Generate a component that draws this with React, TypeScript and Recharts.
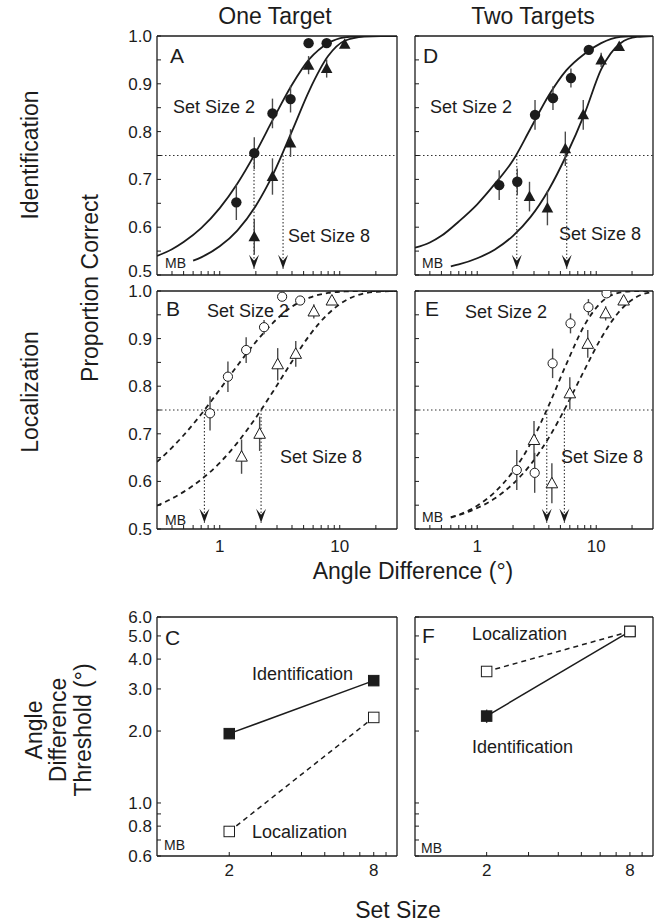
import React from "react";
import {
  ComposedChart,
  Line,
  Scatter,
  XAxis,
  YAxis,
  ErrorBar,
  ReferenceLine,
} from "recharts";

const FONT = "'Liberation Sans', Arial, Helvetica, sans-serif";
const INK = "#1c1c1c";
const BAR = "#4a4a4a";

// angle grid (deg) for the fitted curves
const fitAngles = [0.3, 0.4, 0.5, 0.7, 1, 1.4, 2, 2.8, 4, 5.6, 8, 11, 16, 22, 30];
const fitAnglesFromMB = [0.6, 0.7, 1, 1.4, 2, 2.8, 4, 5.6, 8, 11, 16, 22, 30];

// A - identification, one target
const idOneSs2Angles = [1.375, 1.94, 2.75, 3.89, 5.5, 7.78];
const idOneSs2Pc = [0.652, 0.755, 0.838, 0.868, 0.985, 0.985];
const idOneSs2Err = [0.037, 0.033, 0.031, 0.028, 0.008, 0.005];
const idOneSs8Angles = [1.94, 2.75, 3.89, 5.5, 7.78, 11];
const idOneSs8Pc = [0.58, 0.706, 0.776, 0.939, 0.932, 0.983];
const idOneSs8Err = [0.037, 0.038, 0.029, 0.019, 0.019, 0.005];
const idOneSs2Fit = [0.54, 0.554, 0.569, 0.598, 0.64, 0.691, 0.757, 0.827, 0.898, 0.952, 0.985, 0.997, 1, 1, 1];
const idOneSs8Fit = [0.53, 0.537, 0.56, 0.593, 0.645, 0.712, 0.801, 0.887, 0.958, 0.99, 0.999, 1, 1];
const idOneThresholds = [1.93, 3.37];

// B - localization, one target
const locOneSs2Angles = [0.83, 1.17, 1.66, 2.34, 3.31, 4.68];
const locOneSs2Pc = [0.743, 0.82, 0.876, 0.924, 0.988, 0.98];
const locOneSs2Err = [0.036, 0.032, 0.027, 0.015, 0.005, 0.005];
const locOneSs8Angles = [1.52, 2.15, 3.04, 4.3, 6.08, 8.6];
const locOneSs8Pc = [0.652, 0.7, 0.846, 0.868, 0.957, 0.98];
const locOneSs8Err = [0.036, 0.036, 0.034, 0.027, 0.015, 0.005];
const locOneSs2Fit = [0.641, 0.671, 0.697, 0.741, 0.793, 0.843, 0.893, 0.934, 0.967, 0.986, 0.996, 0.999, 1, 1, 1];
const locOneSs8Fit = [0.549, 0.564, 0.578, 0.604, 0.639, 0.681, 0.734, 0.79, 0.852, 0.907, 0.952, 0.979, 0.995, 0.999, 1];
const locOneThresholds = [0.745, 2.21];

// D - identification, two targets
const idTwoSs2Angles = [1.53, 2.17, 3.06, 4.33, 6.13, 8.66];
const idTwoSs2Pc = [0.688, 0.695, 0.835, 0.87, 0.912, 0.971];
const idTwoSs2Err = [0.031, 0.028, 0.031, 0.025, 0.02, 0.008];
const idTwoSs8Angles = [2.75, 3.89, 5.5, 7.78, 11, 15.6];
const idTwoSs8Pc = [0.664, 0.64, 0.764, 0.835, 0.95, 0.978];
const idTwoSs8Err = [0.031, 0.036, 0.036, 0.031, 0.015, 0.005];
const idTwoSs2Fit = [0.557, 0.568, 0.582, 0.612, 0.648, 0.69, 0.74, 0.806, 0.876, 0.928, 0.963, 0.985, 0.998, 1, 1];
const idTwoSs8Fit = [0.518, 0.522, 0.535, 0.553, 0.582, 0.621, 0.679, 0.75, 0.838, 0.93, 0.985, 0.998, 1];
const idTwoThresholds = [2.15, 5.65];

// E - localization, two targets
const locTwoSs2Angles = [2.15, 3.04, 4.3, 6.08, 8.6, 12.2];
const locTwoSs2Pc = [0.624, 0.618, 0.848, 0.932, 0.966, 0.995];
const locTwoSs2Err = [0.042, 0.042, 0.031, 0.021, 0.017, 0.005];
const locTwoSs8Angles = [3, 4.24, 6, 8.49, 12, 17];
const locTwoSs8Pc = [0.687, 0.596, 0.785, 0.889, 0.953, 0.98];
const locTwoSs8Err = [0.04, 0.042, 0.034, 0.029, 0.015, 0.005];
const locTwoSs2Fit = [0.525, 0.53, 0.549, 0.577, 0.621, 0.679, 0.76, 0.846, 0.929, 0.976, 0.997, 1, 1];
const locTwoSs8Fit = [0.524, 0.529, 0.544, 0.564, 0.595, 0.635, 0.692, 0.758, 0.835, 0.901, 0.96, 0.988, 0.998];
const locTwoThresholds = [3.84, 5.4];

// C, F - thresholds vs set size
const setSizes = [2, 8];
const oneIdThresh = [1.95, 3.25];
const oneIdErr = [0, 0];
const oneLocThresh = [0.76, 2.28];
const oneLocErr = [0.04, 0];
const twoIdThresh = [2.31, 5.22];
const twoIdErr = [0.15, 0];
const twoLocThresh = [3.55, 5.22];
const twoLocErr = [0, 0];

const angleTicks = [0.4, 0.5, 0.6, 0.7, 0.8, 0.9, 1, 2, 3, 4, 5, 6, 7, 8, 9, 10, 20];
const pcTicks = [0.5, 0.55, 0.6, 0.65, 0.7, 0.75, 0.8, 0.85, 0.9, 0.95, 1];
const sizeTicks = [2, 3, 4, 5, 6, 7, 8, 9];
const threshTicks = [0.6, 0.7, 0.8, 0.9, 1, 2, 3, 4, 5, 6];

const CRIT = 0.75;
const ARROW_TIP = 0.513;

const LW = 50;
const BH = 36;
const TM = 14;

type Kind = "disc" | "tri" | "ring" | "openTri";

const pts = (a: number[], p: number[], e: number[]) =>
  a.map((v, i) => ({ a: v, p: p[i], e: e[i] }));
const curve = (a: number[], p: number[]) => a.map((v, i) => ({ a: v, p: p[i] }));

function marker(kind: Kind, cx: number, cy: number) {
  if (cx == null || cy == null) return <g />;
  if (kind === "disc") return <circle cx={cx} cy={cy} r={5.2} fill={INK} />;
  if (kind === "ring")
    return <circle cx={cx} cy={cy} r={4.6} fill="#fff" stroke={INK} strokeWidth={1} />;
  const tri = `${cx},${cy - 6} ${cx - 5.8},${cy + 4.5} ${cx + 5.8},${cy + 4.5}`;
  if (kind === "tri") return <polygon points={tri} fill={INK} />;
  return <polygon points={tri} fill="#fff" stroke={INK} strokeWidth={1} />;
}

const tickStyle = { fontSize: 17, fill: INK, fontFamily: FONT };
const axisStyle = { stroke: INK, strokeWidth: 1.3 };

// y tick labels for proportion correct; end labels can be nudged so stacked panels don't collide
const pcTick = (show: boolean, topShift: number, bottomShift: number) => (p: any) => {
  const v = p.payload.value;
  const major = Math.abs(v * 10 - Math.round(v * 10)) < 1e-6;
  if (!show || !major) return <g />;
  const shift = v === 1 ? topShift : v === 0.5 ? bottomShift : 0;
  return (
    <text
      x={p.x}
      y={p.y + shift}
      dy="0.355em"
      textAnchor="end"
      fontSize={17}
      fill={INK}
      fontFamily={FONT}
    >
      {v.toFixed(1)}
    </text>
  );
};

type PsychProps = {
  x: number;
  y: number;
  w: number;
  h: number;
  marks: { kind: Kind; points: { a: number; p: number; e: number }[] }[];
  fits: { a: number; p: number }[][];
  thresholds: number[];
  dashed?: boolean;
  yLabels?: boolean;
  xLabels?: boolean;
  topShift?: number;
  bottomShift?: number;
};

function PsychPanel({
  x,
  y,
  w,
  h,
  marks,
  fits,
  thresholds,
  dashed,
  yLabels,
  xLabels,
  topShift = 0,
  bottomShift = 0,
}: PsychProps) {
  return (
    <div style={{ position: "absolute", left: x - LW, top: y - 1 - TM }}>
      <ComposedChart width={LW + w + 1} height={TM + 1 + h + BH} margin={{ top: TM, right: 0, bottom: 0, left: 0 }}>
        <XAxis
          xAxisId="b"
          dataKey="a"
          type="number"
          scale="log"
          domain={[0.3, 30]}
          allowDataOverflow
          ticks={angleTicks}
          interval={0}
          height={BH}
          tickSize={-4}
          tickMargin={15}
          tick={tickStyle}
          tickFormatter={(v: number) => (xLabels && (v === 1 || v === 10) ? String(v) : "")}
          axisLine={axisStyle}
          tickLine={{ stroke: INK }}
        />
        <XAxis
          xAxisId="t"
          orientation="top"
          type="number"
          scale="log"
          domain={[0.3, 30]}
          allowDataOverflow
          ticks={angleTicks}
          interval={0}
          height={1}
          tickSize={-4}
          tick={false}
          axisLine={axisStyle}
          tickLine={{ stroke: INK }}
        />
        <YAxis
          yAxisId="l"
          dataKey="p"
          type="number"
          domain={[0.5, 1]}
          allowDataOverflow
          ticks={pcTicks}
          interval={0}
          width={LW}
          tickSize={-4}
          tickMargin={9}
          tick={pcTick(!!yLabels, topShift, bottomShift)}
          axisLine={axisStyle}
          tickLine={{ stroke: INK }}
        />
        <YAxis
          yAxisId="r"
          orientation="right"
          type="number"
          domain={[0.5, 1]}
          ticks={pcTicks}
          interval={0}
          width={1}
          tickSize={-4}
          tick={false}
          axisLine={axisStyle}
          tickLine={{ stroke: INK }}
        />
        <ReferenceLine xAxisId="b" yAxisId="l" y={CRIT} stroke="#333" strokeWidth={1} strokeDasharray="1.5 2.5" />
        {fits.map((f, i) => (
          <Line
            key={"fit" + i}
            xAxisId="b"
            yAxisId="l"
            data={f}
            dataKey="p"
            type="monotone"
            dot={false}
            stroke={INK}
            strokeWidth={1.8}
            strokeDasharray={dashed ? "5 4" : undefined}
            isAnimationActive={false}
          />
        ))}
        {thresholds.map((t, i) => (
          <Line
            key={"arrow" + i}
            xAxisId="b"
            yAxisId="l"
            data={[{ a: t, p: CRIT }, { a: t, p: ARROW_TIP }]}
            dataKey="p"
            stroke="#333"
            strokeWidth={1.1}
            strokeDasharray="1.5 2"
            isAnimationActive={false}
            dot={(d: any) =>
              d.index === 1 ? (
                <polygon
                  key={"head" + i}
                  points={`${d.cx - 5},${d.cy - 14} ${d.cx},${d.cy - 8} ${d.cx + 5},${d.cy - 14} ${d.cx},${d.cy}`}
                  fill={INK}
                />
              ) : (
                <g key={"tail" + i} />
              )
            }
          />
        ))}
        {marks.map((m, i) => (
          <Scatter
            key={"mk" + i}
            xAxisId="b"
            yAxisId="l"
            data={m.points}
            dataKey="p"
            isAnimationActive={false}
            shape={(p: any) => marker(m.kind, p.cx, p.cy)}
          >
            <ErrorBar dataKey="e" direction="y" width={0} stroke={BAR} strokeWidth={1.4} />
          </Scatter>
        ))}
      </ComposedChart>
    </div>
  );
}

type ThreshProps = {
  x: number;
  y: number;
  w: number;
  h: number;
  id: { s: number; t: number; e: number }[];
  loc: { s: number; t: number; e: number }[];
  yLabels?: boolean;
};

const square = (filled: boolean, size: number) => (d: any) => (
  <rect
    key={"sq" + d.index}
    x={d.cx - size / 2}
    y={d.cy - size / 2}
    width={size}
    height={size}
    fill={filled ? INK : "#fff"}
    stroke={INK}
    strokeWidth={1}
  />
);

function ThreshPanel({ x, y, w, h, id, loc, yLabels }: ThreshProps) {
  return (
    <div style={{ position: "absolute", left: x - LW, top: y - 1 - TM }}>
      <ComposedChart width={LW + w + 1} height={TM + 1 + h + BH} margin={{ top: TM, right: 0, bottom: 0, left: 0 }}>
        <XAxis
          xAxisId="b"
          dataKey="s"
          type="number"
          scale="log"
          domain={[1, 10]}
          allowDataOverflow
          ticks={sizeTicks}
          interval={0}
          height={BH}
          tickSize={-4}
          tickMargin={12}
          tick={tickStyle}
          tickFormatter={(v: number) => (v === 2 || v === 8 ? String(v) : "")}
          axisLine={axisStyle}
          tickLine={{ stroke: INK }}
        />
        <XAxis
          xAxisId="t"
          orientation="top"
          type="number"
          scale="log"
          domain={[1, 10]}
          ticks={sizeTicks}
          interval={0}
          height={1}
          tickSize={-4}
          tick={false}
          axisLine={axisStyle}
          tickLine={{ stroke: INK }}
        />
        <YAxis
          yAxisId="l"
          dataKey="t"
          type="number"
          scale="log"
          domain={[0.6, 6]}
          allowDataOverflow
          ticks={threshTicks}
          interval={0}
          width={LW}
          tickSize={-4}
          tickMargin={9}
          tick={tickStyle}
          tickFormatter={(v: number) => (yLabels && v !== 0.7 && v !== 0.9 ? v.toFixed(1) : "")}
          axisLine={axisStyle}
          tickLine={{ stroke: INK }}
        />
        <YAxis
          yAxisId="r"
          orientation="right"
          type="number"
          scale="log"
          domain={[0.6, 6]}
          ticks={threshTicks}
          interval={0}
          width={1}
          tickSize={-4}
          tick={false}
          axisLine={axisStyle}
          tickLine={{ stroke: INK }}
        />
        <Line
          xAxisId="b"
          yAxisId="l"
          data={id}
          dataKey="t"
          stroke={INK}
          strokeWidth={1.5}
          dot={square(true, 10.5)}
          isAnimationActive={false}
        >
          <ErrorBar dataKey="e" direction="y" width={0} stroke={BAR} strokeWidth={1.4} />
        </Line>
        <Line
          xAxisId="b"
          yAxisId="l"
          data={loc}
          dataKey="t"
          stroke={INK}
          strokeWidth={1.5}
          strokeDasharray="5 4"
          dot={square(false, 10.5)}
          isAnimationActive={false}
        >
          <ErrorBar dataKey="e" direction="y" width={0} stroke={BAR} strokeWidth={1.4} />
        </Line>
      </ComposedChart>
    </div>
  );
}

const thr = (s: number[], t: number[], e: number[]) => s.map((v, i) => ({ s: v, t: t[i], e: e[i] }));

export default function App() {
  const txt = { fontFamily: FONT, fill: INK } as const;
  return (
    <div style={{ position: "absolute", left: 0, top: 0, width: 657, height: 922, background: "#fff" }}>
      <PsychPanel
        x={157}
        y={36}
        w={240}
        h={239}
        yLabels
        bottomShift={-4}
        marks={[
          { kind: "disc", points: pts(idOneSs2Angles, idOneSs2Pc, idOneSs2Err) },
          { kind: "tri", points: pts(idOneSs8Angles, idOneSs8Pc, idOneSs8Err) },
        ]}
        fits={[curve(fitAngles, idOneSs2Fit), curve(fitAnglesFromMB, idOneSs8Fit)]}
        thresholds={idOneThresholds}
      />
      <PsychPanel
        x={157}
        y={291}
        w={240}
        h={238}
        yLabels
        xLabels
        dashed
        topShift={0}
        marks={[
          { kind: "ring", points: pts(locOneSs2Angles, locOneSs2Pc, locOneSs2Err) },
          { kind: "openTri", points: pts(locOneSs8Angles, locOneSs8Pc, locOneSs8Err) },
        ]}
        fits={[curve(fitAngles, locOneSs2Fit), curve(fitAngles, locOneSs8Fit)]}
        thresholds={locOneThresholds}
      />
      <PsychPanel
        x={415}
        y={36}
        w={238}
        h={239}
        marks={[
          { kind: "disc", points: pts(idTwoSs2Angles, idTwoSs2Pc, idTwoSs2Err) },
          { kind: "tri", points: pts(idTwoSs8Angles, idTwoSs8Pc, idTwoSs8Err) },
        ]}
        fits={[curve(fitAngles, idTwoSs2Fit), curve(fitAnglesFromMB, idTwoSs8Fit)]}
        thresholds={idTwoThresholds}
      />
      <PsychPanel
        x={415}
        y={291}
        w={238}
        h={238}
        xLabels
        dashed
        marks={[
          { kind: "ring", points: pts(locTwoSs2Angles, locTwoSs2Pc, locTwoSs2Err) },
          { kind: "openTri", points: pts(locTwoSs8Angles, locTwoSs8Pc, locTwoSs8Err) },
        ]}
        fits={[curve(fitAnglesFromMB, locTwoSs2Fit), curve(fitAnglesFromMB, locTwoSs8Fit)]}
        thresholds={locTwoThresholds}
      />
      <ThreshPanel
        x={157}
        y={617}
        w={240}
        h={239}
        yLabels
        id={thr(setSizes, oneIdThresh, oneIdErr)}
        loc={thr(setSizes, oneLocThresh, oneLocErr)}
      />
      <ThreshPanel
        x={415}
        y={617}
        w={238}
        h={239}
        id={thr(setSizes, twoIdThresh, twoIdErr)}
        loc={thr(setSizes, twoLocThresh, twoLocErr)}
      />

      <svg width={657} height={922} style={{ position: "absolute", left: 0, top: 0, pointerEvents: "none" }}>
        <g {...txt} fontSize={23} textAnchor="middle">
          <text x={275} y={24}>One Target</text>
          <text x={533} y={24}>Two Targets</text>
          <text x={413} y={579}>Angle Difference (°)</text>
          <text x={398} y={918}>Set Size</text>
          <text transform="translate(38,155) rotate(-90)">Identification</text>
          <text transform="translate(38,392) rotate(-90)">Localization</text>
          <text transform="translate(98,288) rotate(-90)">Proportion Correct</text>
          <text transform="translate(42,730) rotate(-90)">Angle</text>
          <text transform="translate(66,730) rotate(-90)">Difference</text>
          <text transform="translate(91,730) rotate(-90)">Threshold (°)</text>
        </g>
        <g {...txt} fontSize={21}>
          <text x={170} y={63}>A</text>
          <text x={166} y={316}>B</text>
          <text x={165} y={645}>C</text>
          <text x={423} y={63}>D</text>
          <text x={425} y={316}>E</text>
          <text x={422} y={643}>F</text>
        </g>
        <g {...txt} fontSize={14}>
          <text x={165} y={268}>MB</text>
          <text x={165} y={525}>MB</text>
          <text x={164} y={850}>MB</text>
          <text x={422} y={268}>MB</text>
          <text x={422} y={522}>MB</text>
          <text x={421} y={853}>MB</text>
        </g>
        <g {...txt} fontSize={18}>
          <text x={173} y={113}>Set Size 2</text>
          <text x={288} y={242}>Set Size 8</text>
          <text x={430} y={113}>Set Size 2</text>
          <text x={559} y={240}>Set Size 8</text>
          <text x={207} y={317}>Set Size 2</text>
          <text x={280} y={463}>Set Size 8</text>
          <text x={465} y={318}>Set Size 2</text>
          <text x={561} y={463}>Set Size 8</text>
          <text x={252} y={680}>Identification</text>
          <text x={252} y={838}>Localization</text>
          <text x={472} y={640}>Localization</text>
          <text x={472} y={753}>Identification</text>
        </g>
      </svg>
    </div>
  );
}
